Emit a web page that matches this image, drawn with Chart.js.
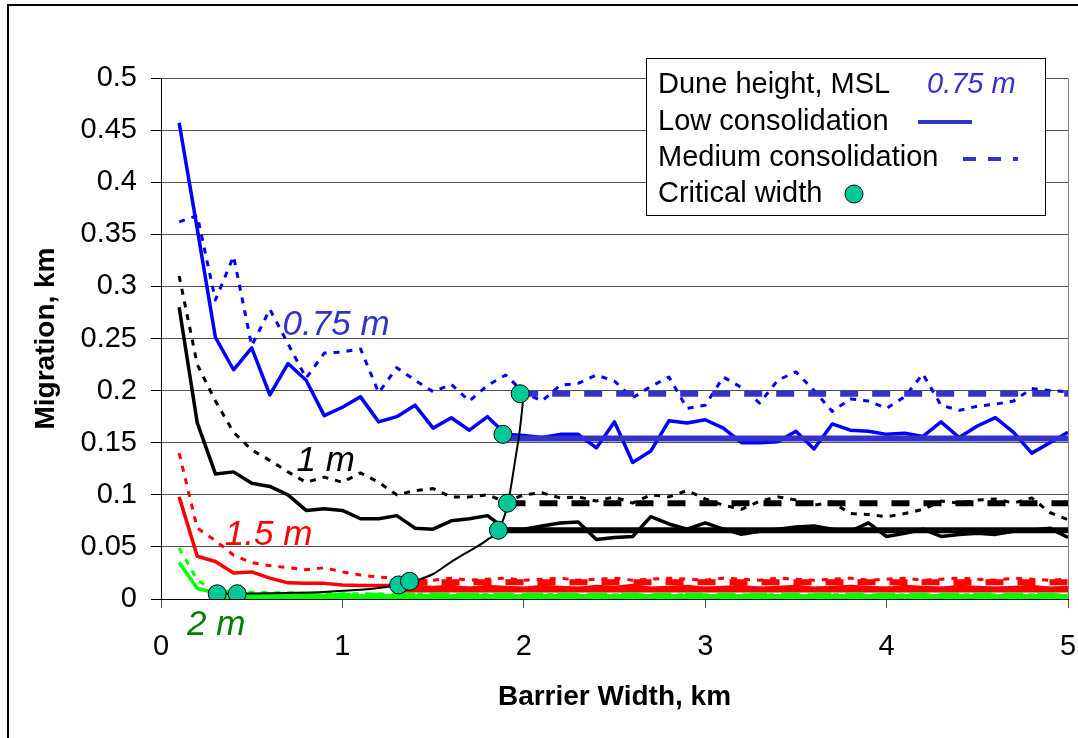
<!DOCTYPE html>
<html>
<head>
<meta charset="utf-8">
<script src="https://cdn.jsdelivr.net/npm/chart.js@4.4.0/dist/chart.umd.min.js"></script>
<style>
  html, body { margin: 0; padding: 0; background: #fff; }
  #wrap { width: 1078px; height: 738px; }
</style>
</head>
<body>
<div id="wrap"><canvas id="migrationChart" width="1078" height="738"></canvas></div>
<script>
// barrier width, km (sample points of every run)
const widths = [0.1,0.2,0.3,0.4,0.5,0.6,0.7,0.8,0.9,1.0,
                1.1,1.2,1.3,1.4,1.5,1.6,1.7,1.8,1.9,2.0,
                2.1,2.2,2.3,2.4,2.5,2.6,2.7,2.8,2.9,3.0,
                3.1,3.2,3.3,3.4,3.5,3.6,3.7,3.8,3.9,4.0,
                4.1,4.2,4.3,4.4,4.5,4.6,4.7,4.8,4.9,5.0];

// migration, km - dune height 0.75 m
const low075 = [0.457,0.355,0.251,0.220,0.241,0.196,0.226,0.210,0.176,0.184,
                0.194,0.170,0.175,0.186,0.164,0.174,0.162,0.175,0.158,0.157,
                0.155,0.158,0.158,0.145,0.170,0.131,0.142,0.171,0.169,0.172,
                0.164,0.150,0.150,0.151,0.161,0.144,0.168,0.162,0.161,0.158,
                0.159,0.156,0.170,0.155,0.166,0.174,0.160,0.140,0.150,0.160];
const med075 = [0.362,0.368,0.287,0.329,0.243,0.278,0.245,0.212,0.236,0.237,
                0.240,0.198,0.222,0.210,0.199,0.206,0.190,0.205,0.215,0.198,
                0.190,0.205,0.207,0.215,0.209,0.193,0.204,0.213,0.183,0.186,
                0.213,0.203,0.188,0.210,0.218,0.200,0.180,0.192,0.190,0.183,
                0.194,0.216,0.186,0.181,0.185,0.187,0.190,0.202,0.200,0.199];
// dune height 1 m
const low1 = [0.280,0.169,0.120,0.122,0.111,0.108,0.100,0.085,0.0865,0.085,
              0.077,0.077,0.080,0.068,0.067,0.075,0.077,0.080,0.067,0.067,
              0.070,0.073,0.074,0.057,0.059,0.060,0.079,0.072,0.067,0.073,
              0.067,0.062,0.065,0.067,0.069,0.070,0.067,0.065,0.073,0.060,
              0.063,0.067,0.060,0.062,0.063,0.062,0.065,0.066,0.068,0.059];
const med1 = [0.310,0.225,0.190,0.160,0.143,0.133,0.122,0.112,0.117,0.112,
              0.121,0.112,0.100,0.104,0.106,0.098,0.098,0.100,0.093,0.100,
              0.102,0.097,0.098,0.094,0.098,0.092,0.100,0.098,0.104,0.096,
              0.090,0.086,0.094,0.098,0.095,0.090,0.093,0.082,0.081,0.079,
              0.082,0.086,0.094,0.092,0.095,0.096,0.092,0.097,0.083,0.076];
// dune height 1.5 m
const low15 = [0.098,0.041,0.036,0.025,0.026,0.020,0.0155,0.015,0.015,0.0135,
               0.013,0.013,0.013,0.012,0.011,0.012,0.010,0.012,0.011,0.010,
               0.012,0.011,0.010,0.012,0.011,0.013,0.010,0.011,0.012,0.010,
               0.011,0.012,0.010,0.011,0.012,0.010,0.011,0.012,0.011,0.010,
               0.012,0.011,0.010,0.012,0.011,0.010,0.011,0.012,0.010,0.011];
const med15 = [0.140,0.068,0.056,0.042,0.035,0.032,0.030,0.028,0.030,0.026,
               0.023,0.021,0.020,0.019,0.018,0.020,0.018,0.019,0.020,0.018,
               0.019,0.020,0.018,0.019,0.020,0.018,0.019,0.020,0.019,0.018,
               0.020,0.019,0.018,0.020,0.019,0.018,0.019,0.020,0.018,0.019,
               0.020,0.018,0.019,0.020,0.019,0.018,0.020,0.019,0.018,0.019];
// dune height 2 m
const low2 = [0.035,0.010,0.006,0.005,0.004,0.004,0.004,0.0035,0.0035,0.003,
              0.003,0.003,0.003,0.003,0.0028,0.0028,0.0028,0.0026,0.0026,0.0025,
              0.0025,0.0025,0.0024,0.0024,0.0024,0.0023,0.0023,0.0023,0.0022,0.0022,
              0.0022,0.0022,0.0021,0.0021,0.0021,0.0021,0.002,0.002,0.002,0.002,
              0.002,0.002,0.002,0.002,0.002,0.002,0.002,0.002,0.002,0.002];
const med2 = [0.049,0.018,0.008,0.007,0.0065,0.006,0.006,0.0055,0.005,0.005,
              0.005,0.0048,0.0047,0.0046,0.0045,0.0045,0.0044,0.0044,0.0043,0.0043,
              0.0042,0.0042,0.0042,0.0041,0.0041,0.0041,0.004,0.004,0.004,0.004,
              0.004,0.004,0.004,0.004,0.004,0.004,0.004,0.004,0.004,0.004,
              0.004,0.004,0.004,0.004,0.004,0.004,0.004,0.004,0.004,0.004];

// level each run settles at, and the critical width where it starts
const plateauLevel = [0.154, 0.197, 0.066, 0.092, 0.009, 0.016, 0.002, 0.003];
const plateauFrom  = [1.885, 1.98, 1.86, 1.91, 1.31, 1.37, 0.31, 0.42];
const plateauTo = 5;

// critical width points
const critX = [0.31, 0.42, 1.31, 1.37, 1.86, 1.91, 1.885, 1.98];
const critY = [0.005, 0.005, 0.0135, 0.017, 0.066, 0.092, 0.158, 0.197];

// critical width trend curve
const curveX = [0.31, 0.5, 0.7, 0.9, 1.1, 1.2, 1.31, 1.41, 1.5, 1.59, 1.67, 1.74, 1.8, 1.86, 1.91, 1.955, 1.98, 2.0];
const curveY = [0.005, 0.0052, 0.0058, 0.0068, 0.0088, 0.0105, 0.0135, 0.018, 0.024, 0.0345, 0.043, 0.05, 0.057, 0.066, 0.09, 0.136, 0.165, 0.198];

const heightLabels = ['0.75 m', '1 m', '1.5 m', '2 m'];
const labelAt = [[0.67, 0.253], [0.747, 0.123], [0.352, 0.052], [0.143, -0.035]];
const labelColors = ['#3333CC', '#000000', '#FF0000', '#008000'];

const yTicks = [0, 0.05, 0.1, 0.15, 0.2, 0.25, 0.3, 0.35, 0.4, 0.45, 0.5];

const FONT = "'Liberation Sans', Arial, sans-serif";
const CRIT_COLOR = '#00C896';

function pts(xs, ys) {
  return xs.map((x, i) => ({ x: x, y: ys[i] }));
}

function run(values, color, dotted) {
  return {
    data: pts(widths, values),
    borderColor: color,
    borderWidth: dotted ? 3 : 3.5,
    borderDash: dotted ? [6, 7] : [],
    borderJoinStyle: 'round',
    pointRadius: 0,
    tension: 0,
    order: 4
  };
}

function plateau(i, color, dashed) {
  return {
    data: [{ x: plateauFrom[i], y: plateauLevel[i] }, { x: plateauTo, y: plateauLevel[i] }],
    borderColor: color,
    borderWidth: 6,
    borderDash: dashed ? [18, 14] : [],
    pointRadius: 0,
    order: 3
  };
}

const datasets = [
  run(low075, '#0000FF', false), run(med075, '#0000FF', true),
  run(low1, '#000000', false), run(med1, '#000000', true),
  run(low15, '#FF0000', false), run(med15, '#FF0000', true),
  run(low2, '#00FF00', false), run(med2, '#00FF00', true),
  plateau(0, '#3333CC', false), plateau(1, '#3333CC', true),
  plateau(2, '#000000', false), plateau(3, '#000000', true),
  plateau(4, '#FF0000', false), plateau(5, '#FF0000', true),
  plateau(6, '#00FF00', false), plateau(7, '#00FF00', true),
  {
    data: pts(curveX, curveY),
    borderColor: '#000000',
    borderWidth: 2,
    pointRadius: 0,
    cubicInterpolationMode: 'monotone',
    order: 2
  },
  {
    data: pts(critX, critY),
    showLine: false,
    pointRadius: 9,
    pointBackgroundColor: CRIT_COLOR,
    pointBorderColor: '#000000',
    pointBorderWidth: 1,
    order: 1
  }
];

const framePlugin = {
  id: 'frame',
  beforeDraw(chart) {
    const ctx = chart.ctx;
    ctx.save();
    ctx.fillStyle = '#fff';
    ctx.fillRect(0, 0, chart.width, chart.height);
    ctx.strokeStyle = '#000';
    ctx.lineWidth = 2;
    ctx.strokeRect(8, 5, chart.width + 20, chart.height + 20);
    ctx.restore();
  },
  beforeDatasetsDraw(chart) {
    const a = chart.chartArea;
    const ctx = chart.ctx;
    ctx.save();
    ctx.strokeStyle = '#808080';
    ctx.lineWidth = 1;
    ctx.beginPath();
    ctx.moveTo(Math.round(a.right) + 0.5, a.top);
    ctx.lineTo(Math.round(a.right) + 0.5, a.bottom);
    ctx.stroke();
    ctx.restore();
  },
  afterDatasetsDraw(chart) {
    const ctx = chart.ctx;
    const xs = chart.scales.x, ys = chart.scales.y;
    ctx.save();
    ctx.font = 'italic 35px ' + FONT;
    ctx.textBaseline = 'alphabetic';
    heightLabels.forEach((t, i) => {
      ctx.fillStyle = labelColors[i];
      ctx.fillText(t, xs.getPixelForValue(labelAt[i][0]), ys.getPixelForValue(labelAt[i][1]));
    });
    ctx.restore();
  },
  afterDraw(chart) {
    const ctx = chart.ctx;
    ctx.save();
    // legend box
    ctx.fillStyle = '#fff';
    ctx.fillRect(646, 58, 399, 157);
    ctx.strokeStyle = '#000';
    ctx.lineWidth = 1;
    ctx.strokeRect(646.5, 58.5, 399, 157);
    ctx.fillStyle = '#000';
    ctx.font = '29px ' + FONT;
    ctx.textBaseline = 'alphabetic';
    ctx.fillText('Dune height, MSL', 658, 93);
    ctx.fillText('Low consolidation', 658, 130);
    ctx.fillText('Medium consolidation', 658, 166);
    ctx.fillText('Critical width', 658, 202);
    ctx.fillStyle = '#3333CC';
    ctx.font = 'italic 29px ' + FONT;
    ctx.fillText('0.75 m', 927, 93);
    ctx.strokeStyle = '#3333CC';
    ctx.lineWidth = 4;
    ctx.beginPath();
    ctx.moveTo(918, 122);
    ctx.lineTo(972, 122);
    ctx.stroke();
    ctx.setLineDash([13, 12]);
    ctx.beginPath();
    ctx.moveTo(963, 159);
    ctx.lineTo(1018, 159);
    ctx.stroke();
    ctx.setLineDash([]);
    ctx.fillStyle = CRIT_COLOR;
    ctx.strokeStyle = '#000';
    ctx.lineWidth = 1;
    ctx.beginPath();
    ctx.arc(854, 194, 9, 0, Math.PI * 2);
    ctx.fill();
    ctx.stroke();
    ctx.restore();
  }
};

new Chart(document.getElementById('migrationChart'), {
  type: 'line',
  data: { datasets: datasets },
  plugins: [framePlugin],
  options: {
    responsive: false,
    animation: false,
    parsing: true,
    layout: { padding: { left: 0, top: 78, right: 7, bottom: 0 } },
    plugins: { legend: { display: false }, tooltip: { enabled: false } },
    scales: {
      x: {
        type: 'linear',
        min: 0,
        max: 5,
        ticks: {
          stepSize: 1,
          color: '#000',
          padding: 22,
          font: { family: FONT, size: 29 },
          maxRotation: 0
        },
        grid: { drawOnChartArea: false, tickLength: 9, tickColor: '#555' },
        border: { color: '#000', width: 1 },
        title: {
          display: true,
          text: 'Barrier Width, km',
          color: '#000',
          font: { family: FONT, size: 28, weight: 'bold' },
          padding: { top: 0, bottom: 24 }
        },
        afterFit(scale) {
          scale.height = 139;
          scale.paddingLeft = 0;
          scale.paddingRight = 0;
        }
      },
      y: {
        type: 'linear',
        min: 0,
        max: 0.5,
        afterBuildTicks(scale) {
          scale.ticks = yTicks.map(v => ({ value: v }));
        },
        ticks: {
          color: '#000',
          padding: 14,
          font: { family: FONT, size: 29 },
          callback: v => Number(v.toFixed(2)).toString()
        },
        grid: { color: '#505050', lineWidth: 1, tickLength: 10, tickColor: '#000' },
        border: { color: '#000', width: 1 },
        title: {
          display: true,
          text: 'Migration, km',
          color: '#000',
          font: { family: FONT, size: 28, weight: 'bold' },
          padding: { top: 29, bottom: 0 }
        },
        afterFit(scale) {
          scale.width = 161;
          scale.paddingTop = 0;
          scale.paddingBottom = 0;
        }
      }
    }
  }
});
</script>
</body>
</html>
